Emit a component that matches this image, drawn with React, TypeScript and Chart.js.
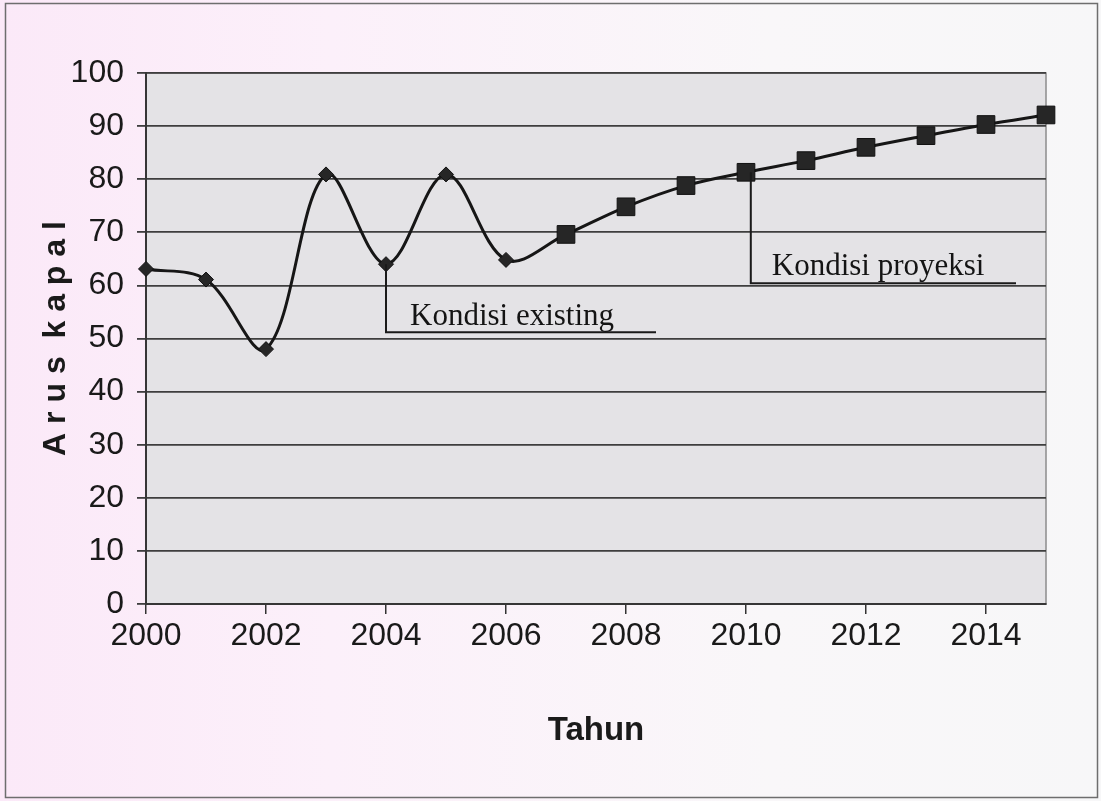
import React, { useEffect, useRef } from 'react';
import { Chart, registerables } from 'chart.js';

Chart.register(...registerables);

// ---- data ----
const existingYears = [2000, 2001, 2002, 2003, 2004, 2005, 2006];
const existingValues = [63.1, 61.1, 48.0, 80.9, 64.0, 80.9, 64.8];
const projectionYears = [2007, 2008, 2009, 2010, 2011, 2012, 2013, 2014, 2015];
const projectionValues = [69.6, 74.8, 78.8, 81.3, 83.5, 86.0, 88.2, 90.3, 92.1];
const xTickValues = [2000, 2002, 2004, 2006, 2008, 2010, 2012, 2014];
const yTickValues = [0, 10, 20, 30, 40, 50, 60, 70, 80, 90, 100];
const xAxisTitle = 'Tahun';
const yAxisTitle = 'A r u s  k a p a l';

// annotation callouts (in data coordinates)
const calloutLabels = ['Kondisi existing', 'Kondisi proyeksi'];
const calloutYears = [2004, 2010.08];
const calloutFromValues = [64.0, 81.3];
const calloutLineValues = [51.2, 60.4];
const calloutEndYears = [2008.5, 2014.5];
const calloutTextYears = [2004.4, 2010.43];
const calloutTextValues = [52.6, 62.0];

const SANS = "'Liberation Sans', Arial, sans-serif";
const SERIF = "'Liberation Serif', 'Times New Roman', serif";

const backgroundPlugin = {
  id: 'pageBackground',
  beforeDraw(chart: any) {
    const { ctx, width, height, chartArea } = chart;
    ctx.save();
    const g = ctx.createLinearGradient(0, 0, width, 0);
    g.addColorStop(0, '#fbe9f8');
    g.addColorStop(0.3, '#fcf0fa');
    g.addColorStop(0.7, '#f9f7f9');
    g.addColorStop(1, '#f7f7f8');
    ctx.fillStyle = g;
    ctx.fillRect(0, 0, width, height);
    ctx.strokeStyle = '#6e6e6e';
    ctx.lineWidth = 1.5;
    ctx.strokeRect(5.5, 3.5, width - 9, height - 7);
    ctx.fillStyle = '#e4e3e6';
    ctx.fillRect(chartArea.left, chartArea.top, chartArea.right - chartArea.left, chartArea.bottom - chartArea.top);
    ctx.strokeStyle = '#8c8c8c';
    ctx.lineWidth = 1.5;
    ctx.strokeRect(chartArea.left, chartArea.top, chartArea.right - chartArea.left, chartArea.bottom - chartArea.top);
    ctx.restore();
  },
};

const calloutPlugin = {
  id: 'callouts',
  afterDatasetsDraw(chart: any) {
    const { ctx, scales } = chart;
    const xs = scales.x;
    const ys = scales.y;
    ctx.save();
    ctx.strokeStyle = '#1a1a1a';
    ctx.lineWidth = 2;
    ctx.fillStyle = '#141414';
    ctx.font = `31px ${SERIF}`;
    ctx.textBaseline = 'alphabetic';
    ctx.textAlign = 'left';
    calloutLabels.forEach((label, i) => {
      const x0 = xs.getPixelForValue(calloutYears[i]);
      const yTop = ys.getPixelForValue(calloutFromValues[i]);
      const yLine = ys.getPixelForValue(calloutLineValues[i]);
      const x1 = xs.getPixelForValue(calloutEndYears[i]);
      ctx.beginPath();
      ctx.moveTo(x0, yTop);
      ctx.lineTo(x0, yLine);
      ctx.lineTo(x1, yLine);
      ctx.stroke();
      ctx.fillText(label, xs.getPixelForValue(calloutTextYears[i]), ys.getPixelForValue(calloutTextValues[i]));
    });
    ctx.restore();
  },
};

export default function App() {
  const canvasRef = useRef<HTMLCanvasElement | null>(null);

  useEffect(() => {
    if (!canvasRef.current) return;
    const allYears = [...existingYears, ...projectionYears];
    const allValues = [...existingValues, ...projectionValues];
    const points = allYears.map((x, i) => ({ x, y: allValues[i] }));
    const nExisting = existingYears.length;

    const chart = new Chart(canvasRef.current, {
      type: 'line',
      data: {
        datasets: [
          {
            label: 'Arus kapal',
            data: points,
            borderColor: '#161616',
            borderWidth: 3,
            tension: 0.35,
            clip: false,
            pointStyle: (c: any) => (c.dataIndex < nExisting ? 'rectRot' : 'rect'),
            pointRadius: (c: any) => (c.dataIndex < nExisting ? 7.5 : 12.5),
            pointBackgroundColor: '#262626',
            pointBorderColor: '#111111',
            pointBorderWidth: 1,
          },
        ],
      },
      options: {
        responsive: false,
        animation: false,
        layout: { padding: { top: 73, right: 55, left: 0, bottom: 0 } },
        plugins: {
          legend: { display: false },
          tooltip: { enabled: false },
        },
        scales: {
          x: {
            type: 'linear',
            min: 2000,
            max: 2015,
            afterBuildTicks: (s: any) => {
              s.ticks = xTickValues.map((v) => ({ value: v }));
            },
            afterFit: (s: any) => {
              s.height = 197;
            },
            ticks: {
              color: '#1a1a1a',
              font: { family: SANS, size: 32 },
              padding: 3,
              maxRotation: 0,
              autoSkip: false,
              callback: (v: any) => String(v),
            },
            grid: { drawOnChartArea: false, drawTicks: true, tickLength: 10, color: '#333333', lineWidth: 1.5 },
            border: { color: '#363636', width: 2 },
            title: {
              display: true,
              text: xAxisTitle,
              color: '#1a1a1a',
              font: { family: SANS, size: 33, weight: 'bold' },
              padding: { top: 0, bottom: 50 },
            },
          },
          y: {
            min: 0,
            max: 100,
            afterBuildTicks: (s: any) => {
              s.ticks = yTickValues.map((v) => ({ value: v }));
            },
            afterFit: (s: any) => {
              s.width = 146;
            },
            ticks: {
              color: '#1a1a1a',
              font: { family: SANS, size: 32 },
              padding: 13,
              callback: (v: any) => String(v),
            },
            grid: { color: '#3e3e3e', lineWidth: 1.8, tickLength: 9, drawTicks: true },
            border: { color: '#363636', width: 2 },
            title: {
              display: true,
              text: yAxisTitle,
              color: '#1a1a1a',
              font: { family: SANS, size: 32, weight: 'bold' },
              padding: { top: 37, bottom: 0 },
            },
          },
        },
      },
      plugins: [backgroundPlugin, calloutPlugin],
    } as any);

    return () => chart.destroy();
  }, []);

  return (
    <div style={{ position: 'absolute', left: 0, top: 0, width: 1101, height: 801, overflow: 'hidden' }}>
      <canvas ref={canvasRef} width={1101} height={801} style={{ display: 'block' }} />
    </div>
  );
}
